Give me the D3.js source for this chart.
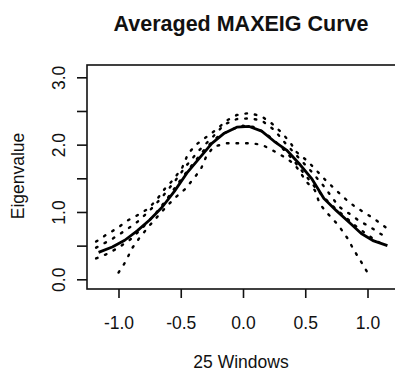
<!DOCTYPE html>
<html>
<head>
<meta charset="utf-8">
<script src="https://cdn.jsdelivr.net/npm/d3@7"></script>
<style>
  body { margin: 0; background: #fff; }
  text { font-family: "Liberation Sans", Arial, sans-serif; fill: #111; }
</style>
</head>
<body>
<div id="app"></div>
<script>
// averaged curve (solid)
const avgX = [-1.16, -1.05, -0.95, -0.85, -0.75, -0.65, -0.55, -0.45, -0.35, -0.25, -0.15, -0.05, 0.05, 0.15, 0.25, 0.35, 0.45, 0.55, 0.65, 0.75, 0.85, 0.95, 1.05, 1.16];
const avgY = [0.40, 0.48, 0.58, 0.72, 0.88, 1.07, 1.31, 1.58, 1.80, 2.02, 2.17, 2.26, 2.27, 2.20, 2.05, 1.92, 1.72, 1.50, 1.20, 1.02, 0.85, 0.68, 0.57, 0.50];

// individual window curves (dotted)
const lowX = [-1.0, -0.94, -0.895, -0.83, -0.75, -0.62, -0.546, -0.465, -0.40, -0.34, -0.296, -0.237, -0.13, -0.03, 0.06, 0.15, 0.234, 0.328, 0.408, 0.449, 0.508, 0.578, 0.616, 0.683, 0.763, 0.839, 0.892, 0.952, 1.0];
const lowY = [0.10, 0.27, 0.45, 0.62, 0.80, 1.07, 1.21, 1.34, 1.49, 1.63, 1.82, 1.97, 2.02, 2.02, 2.02, 2.00, 1.92, 1.82, 1.72, 1.62, 1.45, 1.32, 1.12, 0.97, 0.81, 0.61, 0.43, 0.25, 0.10];

const highX = [-1.18, -1.10, -1.01, -0.93, -0.85, -0.76, -0.69, -0.63, -0.56, -0.49, -0.44, -0.37, -0.29, -0.21, -0.13, -0.05, 0.05, 0.15, 0.234, 0.31, 0.376, 0.43, 0.516, 0.588, 0.664, 0.744, 0.825, 0.905, 0.986, 1.067, 1.148];
const highY = [0.56, 0.66, 0.76, 0.87, 0.95, 1.05, 1.19, 1.34, 1.48, 1.65, 1.87, 2.01, 2.12, 2.23, 2.36, 2.44, 2.47, 2.42, 2.31, 2.18, 2.04, 1.89, 1.76, 1.62, 1.47, 1.33, 1.19, 1.07, 0.98, 0.88, 0.77];

const midX = [-1.18, -1.05, -0.95, -0.85, -0.75, -0.65, -0.55, -0.45, -0.35, -0.25, -0.15, -0.05, 0.05, 0.15, 0.25, 0.35, 0.45, 0.55, 0.65, 0.77, 0.85, 0.94, 1.02, 1.10, 1.15];
const midY = [0.47, 0.60, 0.72, 0.85, 1.02, 1.22, 1.45, 1.70, 1.92, 2.10, 2.30, 2.38, 2.39, 2.36, 2.22, 2.00, 1.80, 1.60, 1.38, 1.08, 0.98, 0.86, 0.78, 0.68, 0.63];

const nearX = [-1.18, -1.10, -1.0, -0.9, -0.8, -0.7, -0.6, -0.5, -0.4, -0.3, -0.2, -0.1, 0.0, 0.1, 0.2, 0.3, 0.4, 0.5, 0.6, 0.7, 0.8, 0.9, 1.0, 1.08, 1.15];
const nearY = [0.31, 0.37, 0.47, 0.60, 0.78, 0.98, 1.22, 1.48, 1.72, 1.95, 2.12, 2.22, 2.28, 2.26, 2.14, 1.98, 1.78, 1.55, 1.32, 1.12, 0.96, 0.80, 0.66, 0.56, 0.50];

const xTicks = [-1.0, -0.5, 0.0, 0.5, 1.0];
const yTicks = [0.0, 0.5, 1.0, 1.5, 2.0, 2.5, 3.0];
const yLabelled = [0.0, 1.0, 2.0, 3.0];

const width = 395;
const height = 371;
const plotLeft = 87, plotRight = 399, plotTop = 65, plotBottom = 289;

const x = d3.scaleLinear().domain([-1.253, 1.253]).range([plotLeft, plotRight]);
const y = d3.scaleLinear().domain([-0.144, 3.183]).range([plotBottom, plotTop]);

const svg = d3.create('svg').attr('width', width).attr('height', height);

svg.append('rect').attr('width', width).attr('height', height).attr('fill', '#fff');

const zip = (xs, ys) => xs.map((v, i) => [v, ys[i]]);
const line = d3.line().x((d) => x(d[0])).y((d) => y(d[1]));

const dotted = [zip(lowX, lowY), zip(highX, highY), zip(midX, midY), zip(nearX, nearY)];

svg.append('g')
	.selectAll('path')
	.data(dotted)
	.join('path')
	.attr('d', line)
	.attr('fill', 'none')
	.attr('stroke', '#000')
	.attr('stroke-width', 2.4)
	.attr('stroke-linecap', 'round')
	.attr('stroke-dasharray', '1.6,8');

svg.append('path')
	.attr('d', line(zip(avgX, avgY)))
	.attr('fill', 'none')
	.attr('stroke', '#000')
	.attr('stroke-width', 2.8)
	.attr('stroke-linejoin', 'round');

// frame
svg.append('rect')
	.attr('x', plotLeft).attr('y', plotTop)
	.attr('width', plotRight - plotLeft).attr('height', plotBottom - plotTop)
	.attr('fill', 'none').attr('stroke', '#111').attr('stroke-width', 1.6);

// x axis
const gx = svg.append('g')
	.attr('transform', `translate(0,${plotBottom})`)
	.call(d3.axisBottom(x).tickValues(xTicks).tickSize(9).tickFormat((d) => d.toFixed(1)));
gx.select('.domain').remove();
gx.selectAll('.tick line').attr('stroke', '#111').attr('stroke-width', 1.6);
gx.selectAll('.tick text')
	.attr('y', 40).attr('dy', null)
	.attr('fill', '#111')
	.style('font-size', '17.5px')
	.style('font-family', '"Liberation Sans", Arial, sans-serif');

// y axis
const gy = svg.append('g')
	.attr('transform', `translate(${plotLeft},0)`)
	.call(d3.axisLeft(y).tickValues(yTicks).tickSize(10)
		.tickFormat((d) => (yLabelled.includes(d) ? d.toFixed(1) : '')));
gy.select('.domain').remove();
gy.selectAll('.tick line').attr('stroke', '#111').attr('stroke-width', 1.6);
gy.selectAll('.tick text')
	.attr('x', null).attr('dy', null)
	.attr('transform', 'translate(-22,0) rotate(-90)')
	.attr('text-anchor', 'middle')
	.attr('fill', '#111')
	.style('font-size', '17.5px')
	.style('font-family', '"Liberation Sans", Arial, sans-serif');

// titles
svg.append('text')
	.attr('x', 241).attr('y', 31)
	.attr('text-anchor', 'middle')
	.style('font-size', '21.5px').style('font-weight', 'bold')
	.text('Averaged MAXEIG Curve');

svg.append('text')
	.attr('x', 241).attr('y', 368)
	.attr('text-anchor', 'middle')
	.style('font-size', '17.5px')
	.text('25 Windows');

svg.append('text')
	.attr('transform', 'translate(24,176) rotate(-90)')
	.attr('text-anchor', 'middle')
	.style('font-size', '17.5px')
	.text('Eigenvalue');

document.getElementById('app').append(svg.node());
</script>
</body>
</html>
